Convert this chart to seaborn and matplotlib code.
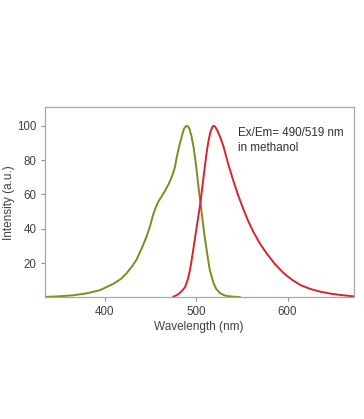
import matplotlib
matplotlib.use("Agg")
import matplotlib.pyplot as plt
import seaborn as sns
import pandas as pd

# Excitation spectrum (olive)
ex_wl = [335, 350, 365, 380, 395, 410, 418, 424, 430, 435, 441, 446, 450, 453,
         456, 459, 462, 466, 470, 474, 477, 479, 482, 485, 487, 489, 490, 491.5,
         493, 495, 497.5, 500, 503, 506, 509, 512, 515, 519, 522, 526, 530, 534,
         541, 548]
ex_int = [0.3, 0.6, 1.2, 2.3, 4.2, 8.0, 10.8, 14, 18, 22, 29, 35.5, 42, 48,
          52.5, 56, 58.5, 62, 66, 71, 76, 82, 89, 95, 98.5, 99.8, 100, 99.5,
          98, 94, 87, 77, 63, 50, 37, 26, 16, 8.5, 5, 2.6, 1.4, 0.8,
          0.4, 0.2]

# Emission spectrum (red)
em_wl = [475, 479, 482, 485, 488, 491, 493, 495, 497, 499, 501, 503, 505, 507,
         510, 512, 514, 516, 518, 519, 520.5, 522, 524, 527, 530, 535, 541,
         546, 552, 557, 563, 570, 577, 586, 596, 605, 614, 625, 636, 647, 658, 672]
em_int = [0.4, 1.3, 2.5, 4, 6, 10.5, 15, 21, 28, 35, 42, 49, 56, 65,
          78, 86, 92.5, 97, 99.5, 100, 99.7, 98.5, 96.5, 92.5, 88, 78, 67.5,
          59.5, 51, 44.5, 37.8, 31.2, 25.8, 19.5, 14, 10.2, 7.2, 4.9, 3.3, 2.2, 1.4, 0.6]

x_ticks = [400, 500, 600]
y_ticks = [20, 40, 60, 80, 100]
annotation = "Ex/Em= 490/519 nm\nin methanol"

sns.set_theme(style="white")
plt.rcParams['font.family'] = ['Liberation Sans', 'DejaVu Sans']

fig = plt.figure(figsize=(3.64, 4.19), dpi=100)
ax = fig.add_axes([45/364, 1-297.4/419, (353.5-45)/364, (297.4-107)/419])

ex_df = pd.DataFrame({"wl": ex_wl, "I": ex_int})
em_df = pd.DataFrame({"wl": em_wl, "I": em_int})
sns.lineplot(data=ex_df, x="wl", y="I", ax=ax, color="#7f8b1e", linewidth=1.4)
sns.lineplot(data=em_df, x="wl", y="I", ax=ax, color="#d8242a", linewidth=1.4)

ax.set_xlim(335, 672)
ax.set_ylim(0, 111)
ax.set_xticks(x_ticks)
ax.set_yticks(y_ticks)
ax.tick_params(axis="both", direction="out", length=3, width=0.8,
               color="#909090", labelsize=8.3, labelcolor="#404040", pad=3,
               bottom=True, left=True)
for s in ax.spines.values():
    s.set_color("#a8a8a8")
    s.set_linewidth(0.9)

ax.set_xlabel("Wavelength (nm)", fontsize=8.5, color="#404040", labelpad=2)
ax.set_ylabel("Intensity (a.u.)", fontsize=8.5, color="#404040")
ax.yaxis.set_label_coords(-0.097, 0.5)

ax.text(0.627, 0.895, annotation, transform=ax.transAxes, fontsize=8.4,
        color="#303030", va="top", ha="left", linespacing=1.35)

fig.savefig("out.png", dpi=100, facecolor="white")
